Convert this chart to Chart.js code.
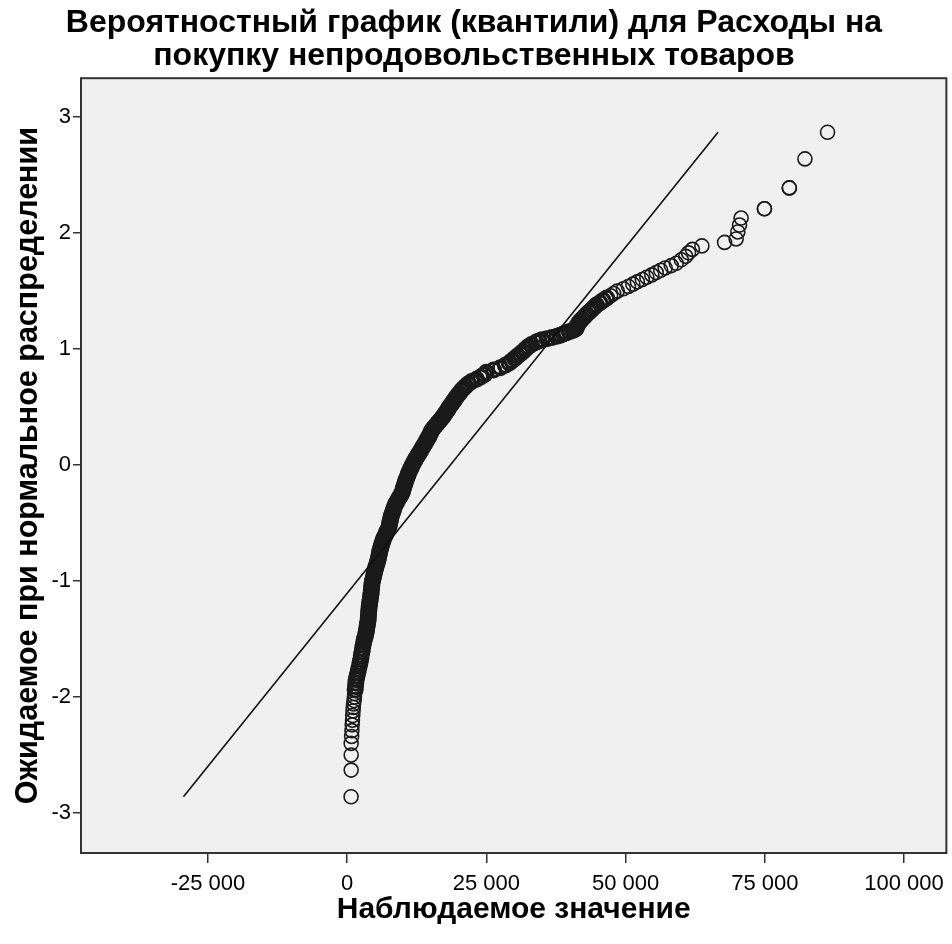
<!DOCTYPE html>
<html>
<head>
<meta charset="utf-8">
<title>Q-Q plot</title>
<script src="https://cdn.jsdelivr.net/npm/chart.js@4.4.1/dist/chart.umd.min.js"></script>
<style>
  body { margin:0; background:#fff; }
</style>
</head>
<body>
<canvas id="qq" width="952" height="944"></canvas>
<script>
var obsX = [700, 716, 716, 716, 800, 850, 900, 950, 1000, 1050, 1100, 1150, 1250, 1300,
  1350, 1430, 1490, 1550, 1620, 1760, 1900, 2050, 2190, 2320, 2450, 2540, 2660, 2760, 2870, 3010, 3080,
  3230, 3320, 3420, 3480, 3540, 3610, 3680, 3750, 3780, 3810, 3840, 3880, 3910, 3940, 4010, 4070, 4130, 4190,
  4250, 4300, 4340, 4380, 4420, 4460, 4550, 4640, 4740, 4840, 4930, 5030, 5150, 5280, 5400, 5530,
  5620, 5700, 5790, 5870, 5990, 6110, 6230, 6360, 6500, 6690, 6880, 7070, 7260, 7460, 7570, 7650,
  7730, 7820, 7920, 8060, 8200, 8340, 8480, 8640, 8880, 9120, 9360, 9600, 9850, 9970, 10100, 10220,
  10350, 10480, 10640, 10800, 10960, 11120, 11300, 11500, 11710, 11920, 12130, 12390, 12640, 12890,
  13140, 13390, 13630, 13880, 14120, 14360, 14610, 14820, 15010, 15190, 15520, 15870, 16220, 16570,
  16920, 17250, 17530, 17810, 18080, 18360, 18650, 18940, 19230, 19520, 19810, 20150, 20480, 20850,
  21270, 21690, 22350, 23220, 23960, 24640, 25000, 26300, 27500, 28400, 29100, 29600, 30100, 30600,
  31100, 31600, 32050, 32500, 33100, 33900, 34400, 35000, 35900, 36800, 37700, 38300, 38800, 39300,
  39900, 40500, 40900, 41100, 41300, 41500, 41800, 42200, 42600, 43000, 43450, 43900, 44350, 44750,
  45400, 45950, 46600, 47300, 47850, 48500, 49600, 50500, 51300, 52100, 53000, 53800, 54700, 55500,
  56300, 57100, 58200, 59100, 60000, 60800, 61300, 62000, 63700,
  67770, 69850, 70150, 70450, 70740, 74930, 74930, 79400, 79400, 82200, 86260];
var expY = [-2.86, -2.63, -2.50, -2.40, -2.34, -2.29, -2.24, -2.20, -2.16, -2.12, -2.09, -2.06, -2.03, -2.00,
  -1.97, -1.94, -1.91, -1.88, -1.85, -1.82, -1.79, -1.76, -1.73, -1.70, -1.67, -1.64, -1.61, -1.58, -1.55, -1.52, -1.50,
  -1.48, -1.46, -1.44, -1.42, -1.40, -1.38, -1.36, -1.34, -1.32, -1.30, -1.28, -1.26, -1.24, -1.22, -1.20, -1.18, -1.16, -1.14,
  -1.12, -1.10, -1.08, -1.06, -1.04, -1.02, -1.00, -0.98, -0.96, -0.94, -0.92, -0.90, -0.88, -0.86, -0.84, -0.82,
  -0.80, -0.78, -0.76, -0.74, -0.72, -0.70, -0.68, -0.66, -0.64, -0.62, -0.60, -0.58, -0.56, -0.54, -0.52, -0.50,
  -0.48, -0.46, -0.44, -0.42, -0.40, -0.38, -0.36, -0.34, -0.32, -0.30, -0.28, -0.26, -0.24, -0.22, -0.20, -0.18,
  -0.16, -0.14, -0.12, -0.10, -0.08, -0.06, -0.04, -0.02, 0.00, 0.02, 0.04, 0.06, 0.08, 0.10,
  0.12, 0.14, 0.16, 0.18, 0.20, 0.22, 0.24, 0.26, 0.28, 0.30, 0.32, 0.34, 0.36, 0.38,
  0.40, 0.42, 0.44, 0.46, 0.48, 0.50, 0.52, 0.54, 0.56, 0.58, 0.60, 0.62, 0.64, 0.66,
  0.68, 0.70, 0.72, 0.74, 0.76, 0.78, 0.80, 0.82, 0.84, 0.86, 0.88, 0.90, 0.92, 0.94,
  0.96, 0.98, 1.00, 1.02, 1.04, 1.06, 1.07, 1.08, 1.09, 1.10, 1.11, 1.12, 1.13, 1.14,
  1.15, 1.16, 1.17, 1.18, 1.20, 1.22, 1.24, 1.26, 1.28, 1.30, 1.32, 1.34, 1.36, 1.38,
  1.40, 1.42, 1.44, 1.46, 1.48, 1.50, 1.52, 1.54, 1.56, 1.58, 1.60, 1.62, 1.64, 1.66,
  1.68, 1.70, 1.72, 1.74, 1.77, 1.80, 1.83, 1.86, 1.89,
  1.92, 1.95, 2.01, 2.07, 2.13, 2.21, 2.21, 2.39, 2.39, 2.64, 2.87];

// reference normal line end points
var lineX = [-29400, 66600];
var lineY = [-2.86, 2.87];

var xTicks = [-25000, 0, 25000, 50000, 75000, 100000];
var yTicks = [-3, -2, -1, 0, 1, 2, 3];

var pts = obsX.map(function(v, i) { return {x: v, y: expY[i]}; });
var linePts = lineX.map(function(v, i) { return {x: v, y: lineY[i]}; });

var FONT = 'Liberation Sans, Arial, sans-serif';

var plotFrame = {
  id: 'plotFrame',
  beforeDatasetsDraw: function(chart) {
    var a = chart.chartArea, c = chart.ctx;
    c.save();
    c.fillStyle = '#f0f0f0';
    c.fillRect(a.left, a.top, a.right - a.left, a.bottom - a.top);
    c.restore();
  },
  afterDraw: function(chart) {
    var a = chart.chartArea, c = chart.ctx;
    c.save();
    c.strokeStyle = '#333';
    c.lineWidth = 2;
    c.strokeRect(a.left, a.top, a.right - a.left, a.bottom - a.top);
    c.restore();
  }
};

function spaced(v) {
  return String(v).replace(/\B(?=(\d{3})+(?!\d))/g, ' ');
}

new Chart(document.getElementById('qq'), {
  type: 'scatter',
  data: {
    datasets: [
      {
        type: 'line',
        data: linePts,
        borderColor: '#111',
        borderWidth: 1.6,
        pointRadius: 0,
        fill: false
      },
      {
        data: pts,
        pointRadius: 7,
        // where the rings pile up the reference shows a solid band
        pointBorderWidth: function(ctx) {
          var y = ctx.raw ? ctx.raw.y : 0;
          return (y > -1.95 && y < 1.45) ? 3 : 1.6;
        },
        pointBackgroundColor: 'rgba(0,0,0,0)',
        pointBorderColor: '#1a1a1a',
        pointHoverRadius: 7
      }
    ]
  },
  options: {
    responsive: false,
    animation: false,
    layout: { autoPadding: false, padding: { left: 0, right: 4, top: 0, bottom: 0 } },
    plugins: {
      legend: { display: false },
      tooltip: { enabled: false },
      title: {
        display: true,
        text: ['Вероятностный график (квантили) для Расходы на', 'покупку непродовольственных товаров'],
        color: '#000',
        font: { family: FONT, size: 32, weight: 'bold', lineHeight: 1.05 },
        padding: { top: 6, bottom: 5 }
      }
    },
    scales: {
      x: {
        type: 'linear',
        min: -47800,
        max: 107600,
        afterFit: function(s) { s.height = 91; },
        afterBuildTicks: function(s) { s.ticks = xTicks.map(function(v) { return {value: v}; }); },
        border: { display: false },
        grid: { drawOnChartArea: false, drawTicks: true, tickLength: 10, color: '#333', lineWidth: 1.5 },
        ticks: {
          color: '#000',
          padding: 8,
          maxRotation: 0,
          font: { family: FONT, size: 22 },
          callback: function(v) { return spaced(v); }
        },
        title: {
          display: true,
          text: 'Наблюдаемое значение',
          color: '#000',
          font: { family: FONT, size: 30, weight: 'bold', lineHeight: 1.2 },
          padding: { top: 0, bottom: 16 }
        }
      },
      y: {
        type: 'linear',
        min: -3.345,
        max: 3.336,
        afterFit: function(s) { s.width = 81; },
        afterBuildTicks: function(s) { s.ticks = yTicks.map(function(v) { return {value: v}; }); },
        border: { display: false },
        grid: { drawOnChartArea: false, drawTicks: true, tickLength: 8, color: '#333', lineWidth: 1.5 },
        ticks: {
          color: '#000',
          padding: 2,
          font: { family: FONT, size: 22 }
        },
        title: {
          display: true,
          text: 'Ожидаемое при нормальное распределении',
          color: '#000',
          font: { family: FONT, size: 30.5, weight: 'bold', lineHeight: 1.2 },
          padding: { top: 10, bottom: 0 }
        }
      }
    }
  },
  plugins: [plotFrame]
});
</script>
</body>
</html>
